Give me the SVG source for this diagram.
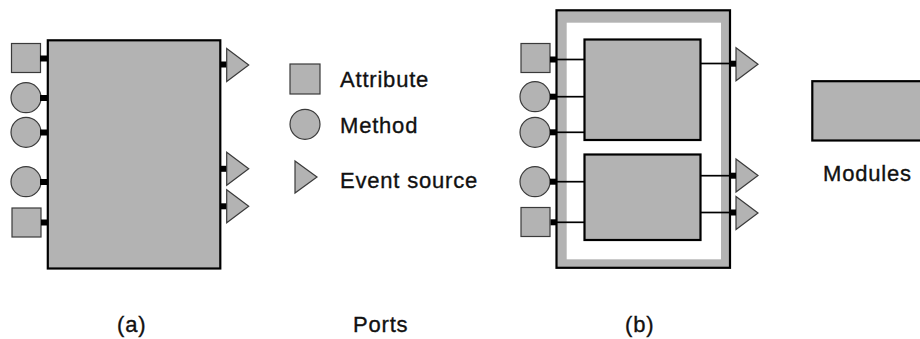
<svg xmlns="http://www.w3.org/2000/svg" width="920" height="339" viewBox="0 0 920 339">
  <style>
    .box { fill: #b3b3b3; stroke: #000; stroke-width: 2.2; }
    .port { fill: #b3b3b3; stroke: #3a3a3a; stroke-width: 1.2; }
    .stub { fill: #000; }
    .wire { stroke: #000; stroke-width: 1.7; fill: none; }
    .lbl { font-family: "Liberation Sans", Arial, sans-serif; font-size: 22px; letter-spacing: 0.8px; fill: #111; stroke: #111; stroke-width: 0.35px; }
  </style>
  <defs>
    <rect id="attr" class="port" x="0" y="0" width="29" height="29"/>
    <circle id="meth" class="port" cx="0" cy="0" r="15"/>
    <polygon id="evt" class="port" points="0,-16.5 22,0 0,16.5"/>
  </defs>

  <!-- (a) component with its ports -->
  <g id="component-a">
    <rect class="box" x="47.8" y="40.3" width="172.5" height="228.2"/>
    <use href="#attr" x="11.5" y="43.5"/>
    <rect class="stub" x="40" y="55.5" width="8" height="6"/>
    <use href="#meth" x="26" y="97.7"/>
    <rect class="stub" x="40" y="95" width="8" height="6"/>
    <use href="#meth" x="26" y="132.3"/>
    <rect class="stub" x="40" y="129.5" width="8" height="6"/>
    <use href="#meth" x="26" y="181.7"/>
    <rect class="stub" x="40" y="179" width="8" height="6"/>
    <use href="#attr" x="12" y="208"/>
    <rect class="stub" x="41" y="219.5" width="7" height="6"/>
    <rect class="stub" x="220" y="61.5" width="7" height="6"/>
    <use href="#evt" x="226.7" y="65"/>
    <rect class="stub" x="220" y="165.8" width="7" height="6"/>
    <use href="#evt" x="226.7" y="168.8"/>
    <rect class="stub" x="220" y="203.3" width="7" height="6"/>
    <use href="#evt" x="226.7" y="206.3"/>
  </g>

  <!-- legend: port kinds -->
  <g id="legend-ports">
    <rect class="port" x="290" y="64" width="30" height="30"/>
    <text class="lbl" x="340" y="87">Attribute</text>
    <circle class="port" cx="305" cy="124.3" r="15"/>
    <text class="lbl" x="340" y="133">Method</text>
    <polygon class="port" points="295,161 317,177 295,193"/>
    <text class="lbl" x="340" y="188">Event source</text>
  </g>

  <!-- (b) composite component -->
  <g id="component-b">
    <rect class="box" x="556.5" y="10.3" width="173.5" height="257.5"/>
    <rect fill="#fff" x="566.7" y="22.7" width="154.3" height="236.6"/>
  </g>
  <g id="module-b1">
    <rect class="box" x="584.5" y="39.5" width="116" height="100.5"/>
  </g>
  <g id="module-b2">
    <rect class="box" x="584.5" y="154.5" width="116" height="85.5"/>
  </g>
  <g id="ports-b">
    <use href="#attr" x="521" y="43.5"/>
    <use href="#meth" x="535" y="96.7"/>
    <use href="#meth" x="535" y="132.3"/>
    <use href="#meth" x="535" y="181.7"/>
    <use href="#attr" x="521" y="207.5"/>
    <use href="#evt" x="736" y="64.3"/>
    <use href="#evt" x="736" y="175.5"/>
    <use href="#evt" x="736" y="213"/>
  </g>
  <g id="connectors">
    <line class="wire" x1="557" y1="59.5" x2="584.5" y2="59.5"/>
    <line class="wire" x1="557" y1="96.7" x2="584.5" y2="96.7"/>
    <line class="wire" x1="557" y1="132.3" x2="584.5" y2="132.3"/>
    <line class="wire" x1="557" y1="181.7" x2="584.5" y2="181.7"/>
    <line class="wire" x1="557" y1="222.3" x2="584.5" y2="222.3"/>
    <line class="wire" x1="700.5" y1="63.5" x2="730" y2="63.5"/>
    <line class="wire" x1="700.5" y1="175.7" x2="730" y2="175.7"/>
    <line class="wire" x1="700.5" y1="212.5" x2="730" y2="212.5"/>
    <rect class="stub" x="550" y="56.5" width="7" height="6"/>
    <rect class="stub" x="550" y="93.7" width="7" height="6"/>
    <rect class="stub" x="550" y="129.3" width="7" height="6"/>
    <rect class="stub" x="550" y="178.7" width="7" height="6"/>
    <rect class="stub" x="550.5" y="219.3" width="6.5" height="6"/>
    <rect class="stub" x="729" y="60.7" width="7" height="6"/>
    <rect class="stub" x="729" y="172.7" width="7" height="6"/>
    <rect class="stub" x="729" y="209.5" width="7" height="6"/>
  </g>

  <!-- legend: module -->
  <g id="legend-module">
    <rect class="box" x="812.3" y="81.2" width="120" height="59.3"/>
    <text class="lbl" x="823" y="180.7">Modules</text>
  </g>

  <!-- captions -->
  <text class="lbl" x="117" y="331.5">(a)</text>
  <text class="lbl" x="353" y="331.5">Ports</text>
  <text class="lbl" x="625" y="331.5">(b)</text>
</svg>
